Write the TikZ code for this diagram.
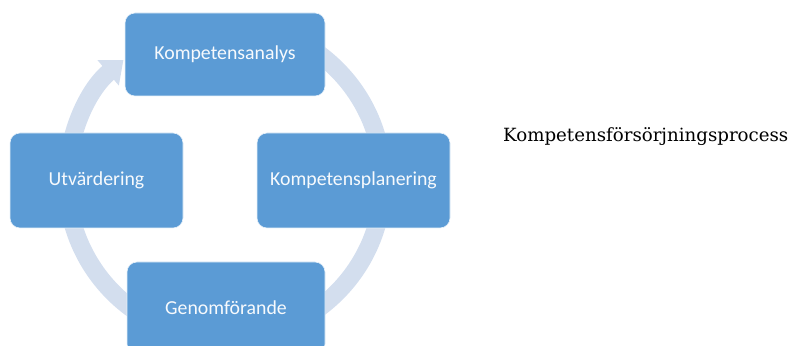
\documentclass[tikz,border=0pt]{standalone}
\usepackage{fontspec}
\setmainfont{Carlito}
\newfontfamily\titlefont{DejaVu Serif}
\usetikzlibrary{arrows.meta}
\definecolor{boxblue}{HTML}{5B9BD5}
\definecolor{ringcol}{HTML}{D3DEEE}
\begin{document}
\begin{tikzpicture}[x=1pt,y=1pt,
  stagebox/.style={draw=white!85!boxblue,line width=0.6pt,fill=boxblue,rounded corners=10pt,text=white!95!boxblue,
    font=\fontsize{19.8}{22}\selectfont,inner sep=0pt},
  ringline/.style={draw=ringcol,line width=18pt,
    -{Triangle[width=32pt,length=20pt]}}]
\useasboundingbox (0,0) rectangle (794,345);
\begin{scope}
\clip (0,0) rectangle (794,345);
\coordinate (ctr) at (225,164);
\draw[ringline] (ctr) ++(90:158) arc[start angle=90,end angle=-230,radius=158];
\node[stagebox,minimum width=200pt,minimum height=83pt] (ka) at (225,290.5) {Kompetensanalys};
\node[stagebox,minimum width=193pt,minimum height=95pt] (kp) at (353.5,164.5) {Kompetensplanering};
\node[stagebox,minimum width=198pt,minimum height=92pt] (gf) at (226,37) {Genomförande};
\node[stagebox,minimum width=173pt,minimum height=95pt] (ut) at (96.5,164.5) {Utvärdering};
\end{scope}
\node[anchor=base west,inner sep=0pt,font=\titlefont\fontsize{18.2}{20}\selectfont] (title) at (503,203.3) {Kompetensförsörjningsprocess};
\end{tikzpicture}
\end{document}
